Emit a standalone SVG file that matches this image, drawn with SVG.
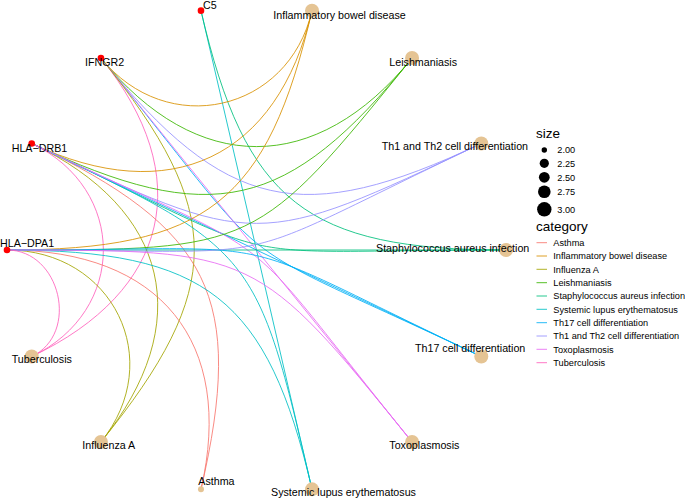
<svg xmlns="http://www.w3.org/2000/svg" width="685" height="499" viewBox="0 0 685 499">
<style>
text{font-family:"Liberation Sans",Arial,sans-serif;fill:#000}
.lbl{font-size:10.7px}
.leg{font-size:9.2px}
.ttl{font-size:13.5px}
.e{fill:none;stroke-width:1;stroke-opacity:0.85}
.gene{fill:#FF0000}
.cat{fill:#E5C494}
.asthma{stroke:#F8766D}.ibd{stroke:#D89000}.flu{stroke:#A3A500}.leish{stroke:#39B600}.staph{stroke:#00BF7D}.sle{stroke:#00BFC4}.th17{stroke:#00B0F6}.th12{stroke:#9590FF}.toxo{stroke:#E76BF3}.tb{stroke:#FF62BC}
</style>
<rect width="685" height="499" fill="#FFFFFF"/>
<g id="connectors">
<path class="e sle" d="M200.98,10.65 L312.02,489.35"/>
<path class="e staph" d="M200.98,10.65 C245.40,202.13 306.40,250 506,250"/>
<path class="e ibd" d="M100.94,58.06 C167.05,139.63 288.42,112.37 312.02,10.65"/>
<path class="e leish" d="M100.94,58.06 C196.61,176.10 316.39,176.10 412.06,58.06"/>
<path class="e th12" d="M100.94,58.06 C225.39,211.61 301.46,228.70 481.29,143.48"/>
<path class="e th17" d="M100.94,58.06 C287.61,288.39 211.54,228.70 481.29,356.52"/>
<path class="e toxo" d="M100.94,58.06 L412.06,441.94"/>
<path class="e tb" d="M100.94,58.06 C196.61,176.10 169.96,291.01 31.71,356.52"/>
<path class="e flu" d="M100.94,58.06 C225.39,211.61 225.39,288.39 100.94,441.94"/>
<path class="e asthma" d="M31.71,143.48 C211.54,228.70 245.40,297.87 200.98,489.35"/>
<path class="e ibd" d="M31.71,143.48 C169.96,208.99 277.88,157.85 312.02,10.65"/>
<path class="e flu" d="M31.71,143.48 C169.96,208.99 196.61,323.90 100.94,441.94"/>
<path class="e leish" d="M31.71,143.48 C211.54,228.70 287.61,211.61 412.06,58.06"/>
<path class="e staph" d="M31.71,143.48 C301.46,271.30 206.60,250 506,250"/>
<path class="e sle" d="M31.71,143.48 C256.5,250 256.5,250 312.02,489.35"/>
<path class="e th17" d="M31.71,143.48 L481.29,356.52"/>
<path class="e th12" d="M31.71,143.48 C256.5,250 256.5,250 481.29,143.48"/>
<path class="e toxo" d="M31.71,143.48 C301.46,271.30 225.39,211.61 412.06,441.94"/>
<path class="e tb" d="M31.71,143.48 C127.25,188.75 127.25,311.25 31.71,356.52"/>
<path class="e asthma" d="M7,250 C160.44,250 235.12,342.15 200.98,489.35"/>
<path class="e ibd" d="M7,250 C206.60,250 267.60,202.13 312.02,10.65"/>
<path class="e flu" d="M7,250 C113.04,250 167.05,360.37 100.94,441.94"/>
<path class="e leish" d="M7,250 C256.5,250 256.5,250 412.06,58.06"/>
<path class="e staph" d="M7,250 L506,250"/>
<path class="e sle" d="M7,250 C206.60,250 267.60,297.87 312.02,489.35"/>
<path class="e th17" d="M7,250 C306.40,250 211.54,228.70 481.29,356.52"/>
<path class="e th12" d="M7,250 C306.40,250 211.54,271.30 481.29,143.48"/>
<path class="e toxo" d="M7,250 C256.5,250 256.5,250 412.06,441.94"/>
<path class="e tb" d="M7,250 C60.64,250 80.04,333.62 31.71,356.52"/>
</g>
<g id="node-HLA-DPA1"><circle class="gene" cx="7" cy="250" r="3.3"/><text class="lbl" x="0" y="246.7">HLA−DPA1</text></g>
<g id="node-HLA-DRB1"><circle class="gene" cx="31.71" cy="143.48" r="3.3"/><text class="lbl" x="11.7" y="151.7">HLA−DRB1</text></g>
<g id="node-IFNGR2"><circle class="gene" cx="100.94" cy="58.06" r="3.3"/><text class="lbl" x="85" y="66">IFNGR2</text></g>
<g id="node-C5"><circle class="gene" cx="200.98" cy="10.65" r="3.3"/><text class="lbl" x="203" y="8.5">C5</text></g>
<g id="node-IBD"><circle class="cat" cx="312.02" cy="10.65" r="7"/><text class="lbl" x="273.3" y="18.7">Inflammatory bowel disease</text></g>
<g id="node-Leishmaniasis"><circle class="cat" cx="412.06" cy="58.06" r="7"/><text class="lbl" x="389.3" y="66">Leishmaniasis</text></g>
<g id="node-Th1Th2"><circle class="cat" cx="481.29" cy="143.48" r="7"/><text class="lbl" x="381.7" y="150">Th1 and Th2 cell differentiation</text></g>
<g id="node-Staph"><circle class="cat" cx="506" cy="250" r="7"/><text class="lbl" x="376" y="251.7">Staphylococcus aureus infection</text></g>
<g id="node-Th17"><circle class="cat" cx="481.29" cy="356.52" r="7"/><text class="lbl" x="415" y="352.3">Th17 cell differentiation</text></g>
<g id="node-Toxoplasmosis"><circle class="cat" cx="412.06" cy="441.94" r="7"/><text class="lbl" x="389.3" y="449">Toxoplasmosis</text></g>
<g id="node-SLE"><circle class="cat" cx="312.02" cy="489.35" r="7"/><text class="lbl" x="271" y="496">Systemic lupus erythematosus</text></g>
<g id="node-Asthma"><circle class="cat" cx="200.98" cy="489.35" r="3"/><text class="lbl" x="198.3" y="485">Asthma</text></g>
<g id="node-InfluenzaA"><circle class="cat" cx="100.94" cy="441.94" r="7"/><text class="lbl" x="82.3" y="449.3">Influenza A</text></g>
<g id="node-Tuberculosis"><circle class="cat" cx="31.71" cy="356.52" r="7"/><text class="lbl" x="11.7" y="363.3">Tuberculosis</text></g>
<g id="legend-size">
<text class="ttl" x="536" y="138">size</text>
<circle cx="544.3" cy="150" r="2.7" fill="#000"/><text class="leg" x="557.3" y="153.3">2.00</text>
<circle cx="544.3" cy="163.3" r="4.6" fill="#000"/><text class="leg" x="557.3" y="166.6">2.25</text>
<circle cx="544.3" cy="177.3" r="5.4" fill="#000"/><text class="leg" x="557.3" y="180.6">2.50</text>
<circle cx="544.3" cy="191.7" r="6.3" fill="#000"/><text class="leg" x="557.3" y="195">2.75</text>
<circle cx="544.3" cy="209.3" r="7.2" fill="#000"/><text class="leg" x="557.3" y="212.6">3.00</text>
</g>
<g id="legend-category">
<text class="ttl" x="536" y="231">category</text>
<g class="e" stroke-width="1.2">
<line class="asthma" x1="536.5" y1="242.7" x2="547" y2="242.7"/>
<line class="ibd" x1="536.5" y1="256" x2="547" y2="256"/>
<line class="flu" x1="536.5" y1="269.3" x2="547" y2="269.3"/>
<line class="leish" x1="536.5" y1="282.7" x2="547" y2="282.7"/>
<line class="staph" x1="536.5" y1="296" x2="547" y2="296"/>
<line class="sle" x1="536.5" y1="309.3" x2="547" y2="309.3"/>
<line class="th17" x1="536.5" y1="322.7" x2="547" y2="322.7"/>
<line class="th12" x1="536.5" y1="336" x2="547" y2="336"/>
<line class="toxo" x1="536.5" y1="349.3" x2="547" y2="349.3"/>
<line class="tb" x1="536.5" y1="362.7" x2="547" y2="362.7"/>
</g>
<text class="leg" x="553.3" y="246">Asthma</text>
<text class="leg" x="553.3" y="259.3">Inflammatory bowel disease</text>
<text class="leg" x="553.3" y="272.6">Influenza A</text>
<text class="leg" x="553.3" y="286">Leishmaniasis</text>
<text class="leg" x="553.3" y="299.3">Staphylococcus aureus infection</text>
<text class="leg" x="553.3" y="312.6">Systemic lupus erythematosus</text>
<text class="leg" x="553.3" y="326">Th17 cell differentiation</text>
<text class="leg" x="553.3" y="339.3">Th1 and Th2 cell differentiation</text>
<text class="leg" x="553.3" y="352.6">Toxoplasmosis</text>
<text class="leg" x="553.3" y="366">Tuberculosis</text>
</g>
</svg>
